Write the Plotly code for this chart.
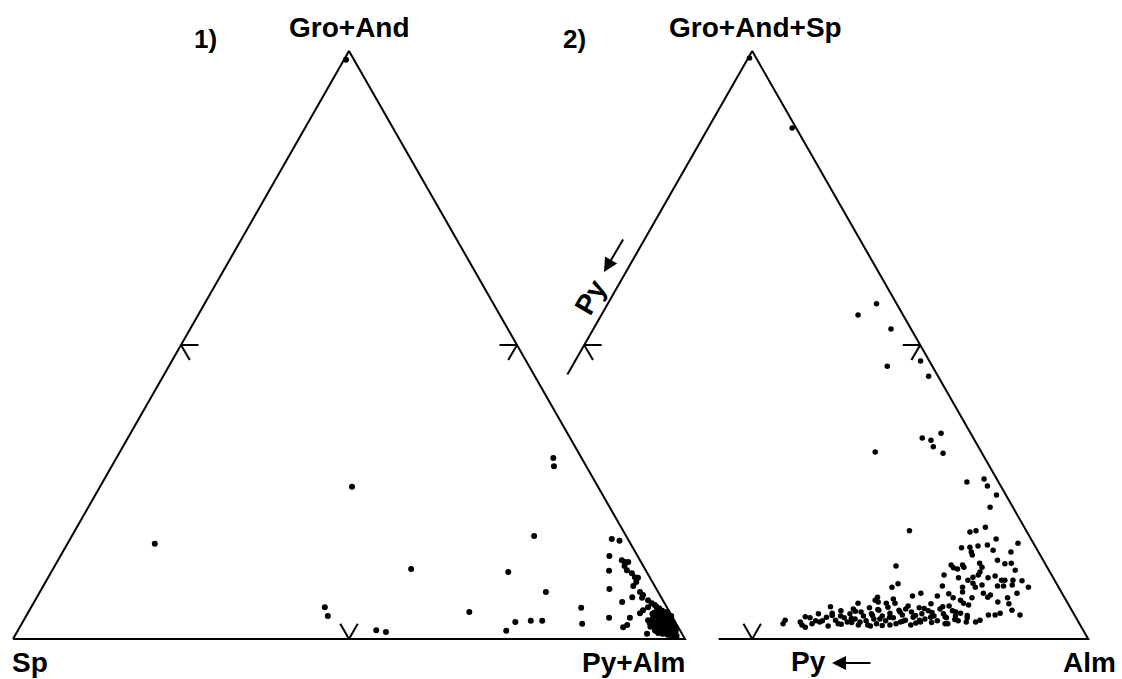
import math
import plotly.graph_objects as go

# ---------------- data (percentages) ----------------
# Diagram 1: apex Gro+And, left corner Sp, right corner Py+Alm  (Sp = 100 - Gro+And - Py+Alm)
d1_groand = [16.2, 25.9, 30.8, 29.4, 5.4, 3.9, 11.9, 1.5, 1.2, 4.6,
             11.4, 1.4, 17.5, 8.0, 2.9, 3.1, 3.1, 5.3, 2.6, 17.0,
             16.7, 14.1, 13.4, 13.1, 13.1, 12.4, 11.6, 11.7, 11.2, 10.5,
             10.4, 9.7, 8.5, 9.0, 8.0, 7.5, 7.0, 6.6, 6.3, 7.1,
             3.6, 3.6, 2.0, 2.4, 4.4, 4.9, 5.4, 6.1, 5.8, 3.2,
             2.7, 0.9, 1.5, 98.5,
             5.2, 4.8, 4.5, 4.2, 4.0, 3.8, 3.5, 3.3, 3.0, 3.0,
             2.8, 2.6, 2.4, 2.2, 2.0, 2.0, 1.8, 1.6, 1.5, 1.4,
             1.2, 1.0, 1.0, 0.8, 0.6, 4.6, 3.9, 5.5, 2.5, 1.2,
             3.2, 4.3, 2.1, 1.7,
             4.9, 4.4, 4.1, 3.7, 3.6, 3.4, 3.1, 2.9, 2.7, 2.5,
             2.3, 2.1, 1.9, 1.7, 1.4, 1.1, 0.9, 0.7, 2.9, 3.6,
             4.2, 1.3, 2.0, 0.5]
d1_pyalm = [13.0, 37.5, 65.0, 65.8, 43.7, 44.9, 53.3, 53.3, 54.9, 65.6,
            68.0, 72.7, 68.8, 75.3, 73.3, 75.5, 77.2, 81.9, 83.4, 80.6,
            81.9, 81.7, 83.9, 84.5, 85.0, 84.8, 82.9, 85.5, 86.5, 87.3,
            87.8, 87.9, 84.5, 87.8, 89.3, 90.0, 90.1, 91.2, 87.5, 88.6,
            86.9, 90.0, 89.8, 90.2, 91.1, 91.3, 91.8, 92.0, 92.6, 92.9,
            93.4, 93.9, 94.8, 0.3,
            93.6, 94.2, 93.2, 94.8, 93.8, 95.2, 94.4, 95.6, 93.6, 94.9,
            96.0, 95.2, 94.2, 96.4, 95.6, 94.6, 96.8, 95.9, 97.2, 94.9,
            96.4, 97.6, 95.5, 96.9, 97.8, 95.0, 96.0, 93.0, 97.0, 98.0,
            96.3, 93.0, 93.8, 97.8,
            93.5, 94.0, 94.5, 93.4, 94.9, 95.0, 95.2, 94.3, 95.7, 96.3,
            95.0, 96.9, 95.2, 96.3, 96.8, 97.0, 96.2, 97.2, 96.6, 95.8,
            95.4, 95.8, 97.5, 98.5]

# Diagram 2: apex Gro+And+Sp, left corner Py, right corner Alm  (Py = 100 - others)
d2_groandsp = [98.8, 86.9, 57.0, 55.1, 52.7, 46.4, 47.3, 44.7, 34.2, 33.8,
               35.0, 32.7, 31.6, 31.8, 26.7, 27.2, 26.0, 24.5, 22.4, 18.4,
               18.2, 18.4, 19.0, 17.0, 16.3, 15.5, 15.6, 14.8, 14.3, 15.8,
               16.0, 15.1, 14.8, 12.4, 12.6, 12.1, 11.9, 12.2, 12.6, 12.9,
               12.2, 11.4, 10.9, 13.4, 12.8, 12.9, 11.7, 10.9, 10.4, 10.0,
               10.5, 10.4, 10.7, 10.0, 10.0, 10.0, 9.9, 8.8, 8.8, 9.4,
               9.0, 8.8, 8.0, 9.5, 8.8, 9.2, 9.0, 9.0, 9.2, 7.8,
               7.3, 7.8, 7.3, 7.7, 7.0, 6.6, 6.1, 7.0, 7.8, 7.1,
               7.5, 6.3, 7.0, 6.0, 7.1, 6.6, 6.3, 6.8, 6.1, 6.1,
               4.1, 4.9, 4.4, 4.1, 4.1, 3.2, 2.9, 3.6, 4.4, 3.2,
               2.6, 2.9, 2.4, 2.0,
               3.6, 2.6, 4.3, 3.1, 3.7, 2.2, 4.4, 3.2, 2.6, 4.8,
               3.6, 2.9, 4.3, 5.1, 3.4, 2.4, 4.6, 3.9, 3.1, 5.3,
               4.3, 3.4, 2.6, 4.9, 3.9, 3.1, 5.4, 4.4, 3.6, 2.6,
               4.9, 4.1, 3.2, 5.6, 4.6, 3.7, 2.7, 5.3, 4.3, 3.4,
               4.8, 6.0, 3.9, 3.1, 5.1, 4.3, 3.6, 5.6, 4.8, 3.9,
               3.1, 2.6, 3.1, 3.9, 2.9, 3.4, 2.9, 2.9, 2.2, 5.1,
               2.4, 3.7, 5.5, 6.1,
               3.8, 2.9, 4.0, 2.5, 3.5, 4.7, 2.8, 4.0, 2.4, 5.0,
               3.7, 2.3, 4.6, 3.0, 4.0, 2.4, 5.2, 3.2, 4.5, 2.8,
               5.5, 3.8, 2.6, 4.6, 3.3, 5.8, 4.0, 2.9]
d2_alm = [0.2, 12.5, 40.0, 38.2, 44.3, 46.9, 51.4, 53.9, 58.2, 59.7,
          60.6, 60.6, 62.6, 52.4, 68.6, 70.9, 72.0, 74.1, 74.2, 64.2,
          73.3, 74.1, 75.2, 77.8, 81.4, 73.4, 74.6, 75.2, 75.6, 75.7,
          77.0, 78.3, 81.1, 65.2, 73.3, 73.9, 74.6, 75.4, 75.0, 77.4,
          78.1, 78.2, 78.2, 79.8, 81.2, 82.1, 83.3, 73.1, 75.5, 77.1,
          77.6, 79.9, 80.8, 82.1, 82.6, 83.8, 85.2, 86.7, 66.4, 67.0,
          73.8, 76.9, 77.3, 78.1, 78.8, 79.6, 82.0, 82.9, 84.1, 85.5,
          70.2, 71.2, 73.9, 75.4, 76.4, 77.7, 78.4, 79.2, 80.5, 81.5,
          81.7, 83.4, 84.5, 85.2, 65.1, 65.0, 65.6, 67.6, 68.2, 66.9,
          87.8, 86.2, 84.7, 84.1, 83.1, 82.3, 81.8, 80.2, 78.8, 53.3,
          53.3, 55.7, 56.2, 56.9,
          56.8, 57.6, 57.7, 58.9, 59.2, 60.2, 59.7, 60.8, 61.5, 60.8,
          61.9, 62.7, 62.4, 62.5, 63.6, 64.6, 63.9, 64.6, 65.4, 64.8,
          65.6, 66.4, 67.2, 66.4, 67.4, 68.3, 67.5, 68.3, 69.2, 70.1,
          69.4, 70.3, 71.2, 70.4, 71.4, 72.1, 73.0, 72.2, 73.1, 74.0,
          73.8, 73.6, 75.1, 76.0, 75.4, 76.3, 77.1, 76.5, 77.4, 78.3,
          79.1, 77.4, 57.9, 61.2, 64.6, 67.3, 70.6, 73.6, 66.5, 70.3,
          69.3, 74.7, 58.9, 62.7,
          56.0, 58.6, 59.9, 62.0, 63.0, 63.0, 63.4, 65.9, 66.0, 66.2,
          68.6, 68.2, 69.7, 70.9, 72.3, 72.4, 73.0, 73.3, 74.5, 75.3,
          75.6, 76.8, 77.8, 78.0, 78.5, 79.3, 80.0, 80.4]

labels1 = {"top": "Gro+And", "left": "Sp", "right": "Py+Alm"}
labels2 = {"top": "Gro+And+Sp", "right": "Alm", "side": "Py"}

# ---------------- geometry / style ----------------
W, HPX = 1122, 679
UNIT = 672.0          # pixels per triangle side
X0PX, Y0PX = 13.0, 639.0
H = 0.875             # triangle height (side = 1)
OFF2 = 0.6            # horizontal offset of diagram 2
CLIP2 = 0.45          # diagram 2: edges near the Py corner are cut away
TICK = 0.026
BLACK = "#000000"


def tern_xy(top, right, offset=0.0):
    xs, ys = [], []
    for a, c in zip(top, right):
        fa, fc = a / 100.0, c / 100.0
        xs.append(offset + fc + 0.5 * fa)
        ys.append(fa * H)
    return xs, ys


def vertices(offset):
    return (offset, 0.0), (offset + 1.0, 0.0), (offset + 0.5, H)


def lerp(p, q, t):
    return (p[0] + (q[0] - p[0]) * t, p[1] + (q[1] - p[1]) * t)


def chevron(p, q, opp):
    m = lerp(p, q, 0.5)
    ex, ey = q[0] - p[0], q[1] - p[1]
    n = (-ey, ex)
    ln = math.hypot(*n)
    n = (n[0] / ln, n[1] / ln)
    if (opp[0] - m[0]) * n[0] + (opp[1] - m[1]) * n[1] < 0:
        n = (-n[0], -n[1])
    xs, ys = [], []
    for ang in (math.radians(30), math.radians(-30)):
        dx = n[0] * math.cos(ang) - n[1] * math.sin(ang)
        dy = n[0] * math.sin(ang) + n[1] * math.cos(ang)
        xs += [m[0], m[0] + TICK * dx, None]
        ys += [m[1], m[1] + TICK * dy, None]
    return xs, ys


fig = go.Figure()

# ---- frame of diagram 1
L1, R1, T1 = vertices(0.0)
fx = [L1[0], R1[0], T1[0], L1[0]]
fy = [L1[1], R1[1], T1[1], L1[1]]
fig.add_trace(go.Scatter(x=fx, y=fy, mode="lines",
                         line=dict(color=BLACK, width=2), hoverinfo="skip"))
# ---- frame of diagram 2 (clipped near Py corner)
L2, R2, T2 = vertices(OFF2)
pl = lerp(L2, T2, CLIP2)
pb = lerp(L2, R2, CLIP2)
fig.add_trace(go.Scatter(x=[pl[0], T2[0], R2[0], pb[0]],
                         y=[pl[1], T2[1], R2[1], pb[1]], mode="lines",
                         line=dict(color=BLACK, width=2), hoverinfo="skip"))

# ---- 50 % chevrons
tx, ty = [], []
for (L, R, T) in ((L1, R1, T1), (L2, R2, T2)):
    for (p, q, o) in ((L, R, T), (L, T, R), (R, T, L)):
        a, b = chevron(p, q, o)
        tx += a
        ty += b
fig.add_trace(go.Scatter(x=tx, y=ty, mode="lines",
                         line=dict(color=BLACK, width=2), hoverinfo="skip"))

# ---- data points
x1, y1 = tern_xy(d1_groand, d1_pyalm, 0.0)
fig.add_trace(go.Scatter(x=x1, y=y1, mode="markers",
                         marker=dict(color=BLACK, size=6, line=dict(width=0))))
x2, y2 = tern_xy(d2_groandsp, d2_alm, OFF2)
fig.add_trace(go.Scatter(x=x2, y=y2, mode="markers",
                         marker=dict(color=BLACK, size=5.5, line=dict(width=0))))

# ---- text
FONT = dict(family="Liberation Sans, Arial, sans-serif", size=28,
            color=BLACK, weight="bold")


def lab(text, px, py, size=28, angle=0):
    f = dict(FONT)
    f["size"] = size
    fig.add_annotation(text=text, x=px / W, y=1 - py / HPX, xref="paper",
                       yref="paper", showarrow=False, font=f,
                       xanchor="center", yanchor="middle", textangle=angle)


lab("1)", 205, 39, 26)
lab(labels1["top"], 349, 28)
lab("2)", 574, 39, 26)
lab(labels2["top"], 755, 28)
lab(labels1["left"], 30, 662)
lab(labels1["right"], 634, 662)
lab(labels2["right"], 1089, 662)
lab(labels2["side"], 808, 661)
lab(labels2["side"], 590, 297, 28, -60)

# arrows
for hx, hy, axp, ayp in ((832, 663, 40, 0), (604, 272, 20, -34)):
    fig.add_annotation(x=hx / W, y=1 - hy / HPX, xref="paper", yref="paper",
                       ax=axp, ay=ayp, text="", showarrow=True,
                       arrowhead=2, arrowsize=1.4, arrowwidth=2,
                       arrowcolor=BLACK)

fig.update_layout(
    width=W, height=HPX, margin=dict(l=0, r=0, t=0, b=0),
    paper_bgcolor="white", plot_bgcolor="white", showlegend=False,
    xaxis=dict(range=[-X0PX / UNIT, (W - X0PX) / UNIT], visible=False,
               fixedrange=True),
    yaxis=dict(range=[-(HPX - Y0PX) / UNIT, Y0PX / UNIT], visible=False,
               fixedrange=True),
)

fig.write_html("out.html", config={"displayModeBar": False},
               post_script="document.body.style.margin='0px';"
                           "document.body.style.overflow='hidden';")
